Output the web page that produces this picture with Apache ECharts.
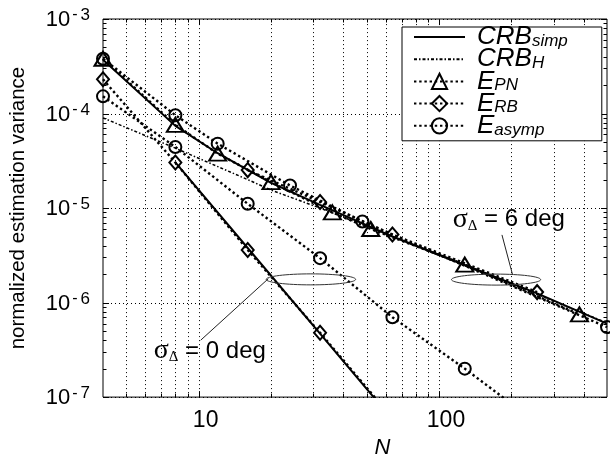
<!DOCTYPE html>
<html><head><meta charset="utf-8">
<script src="https://cdn.jsdelivr.net/npm/echarts@6/dist/echarts.min.js"></script>
<style>html,body{margin:0;padding:0;background:#fff}#c{width:610px;height:464px}</style>
</head><body><div id="c"></div>
<script>
// ---- axes ----
const xRange = [4, 500];
const yRange = [1e-7, 1e-3];
const xGridVals = [5, 6, 7, 8, 9, 10, 20, 30, 40, 50, 60, 70, 80, 90, 100, 200, 300, 400];
const yMajorVals = [1e-7, 1e-6, 1e-5, 1e-4, 1e-3];
const yMinorMantissas = [2, 3, 4, 5, 6, 7, 8, 9];
const legendNames = ['CRB_simp', 'CRB_H', 'E_PN', 'E_RB', 'E_asymp'];

// ---- sigma_Delta = 0 deg ----
const crbSimp0N = [8, 16, 32, 64];
const crbSimp0V = [3.05e-5, 3.78e-6, 4.7e-7, 5.8e-8];
const eRB0N = [4, 8, 16, 32, 64];
const eRB0V = [2.3e-4, 3.03e-5, 3.6e-6, 4.8e-7, 6.0e-8];
const eAsymp0N = [4, 8, 16, 32, 64, 128, 256];
const eAsymp0V = [1.52e-4, 4.43e-5, 1.11e-5, 2.95e-6, 7.0e-7, 2.0e-7, 5.3e-8];

// ---- sigma_Delta = 6 deg ----
const crbSimp6N = [4, 8, 12, 20, 32, 64, 128, 256, 500];
const crbSimp6V = [3.7e-4, 7.4e-5, 3.8e-5, 1.85e-5, 1.08e-5, 5.0e-6, 2.5e-6, 1.25e-6, 6.0e-7];
const crbH6N = [4, 8, 16, 20, 32, 64, 128, 256, 500];
const crbH6V = [9.0e-5, 4.3e-5, 2.0e-5, 1.55e-5, 1.0e-5, 5.0e-6, 2.45e-6, 1.22e-6, 6.1e-7];
const ePN6N = [4, 8, 12, 20, 36, 52, 128, 384];
const ePN6V = [3.8e-4, 7.6e-5, 3.77e-5, 1.88e-5, 9.0e-6, 6.0e-6, 2.52e-6, 7.5e-7];
const eRB6N = [16, 32, 64, 256];
const eRB6V = [2.52e-5, 1.16e-5, 5.25e-6, 1.29e-6];
const eAsymp6N = [4, 8, 12, 24, 48, 500];
const eAsymp6V = [3.8e-4, 9.6e-5, 4.8e-5, 1.73e-5, 7.2e-6, 5.5e-7];

// ---- annotations (data coordinates) ----
const annoText = [
  { val: '6 deg', at: [114, 7.6e-6] },
  { val: '0 deg', at: [6.5, 3.07e-7] }
];
const annoEllipse = [
  { from: [19.1, 1.76e-6], to: [45.0, 1.76e-6] },
  { from: [112.7, 1.75e-6], to: [264.8, 1.75e-6] }
];
const annoLeader = [
  { from: [19.5, 1.79e-6], to: [10.2, 4.0e-7] },
  { from: [202, 2.0e-6], to: [182.8, 5.2e-6] }
];

const FONT = 'Liberation Sans, Arial, Helvetica, sans-serif';
const BLACK = '#000';
const isPow10 = v => Math.abs(Math.log10(v) - Math.round(Math.log10(v))) < 1e-6;
const yMinorVals = [];
for (let e = -7; e < -3; e++) yMinorMantissas.forEach(m => yMinorVals.push(m * Math.pow(10, e)));

const zip = (a, b) => a.map((n, i) => [n, b[i]]);
// flat legend marker: a short horizontal stroke (corner points only set its box)
const FLAT = 'path://M0,0L0,0M0,7L10,7M10,14L10,14';
const styles = {
  CRB_simp: { symbol: FLAT, marks: false, width: 2, dash: 'solid' },
  CRB_H: { symbol: FLAT, marks: false, width: 1.5, dash: [3, 2, 1.5, 2] },
  E_PN: { symbol: 'triangle', marks: true, size: [17, 14], width: 2.4, dash: [2.4, 2.8] },
  E_RB: { symbol: 'diamond', marks: true, size: [12, 14], width: 2.4, dash: [2.4, 2.8] },
  E_asymp: { symbol: 'circle', marks: true, size: 12, width: 2.4, dash: [2.4, 2.8] }
};
function mk(name, N, V) {
  const s = styles[name];
  return {
    type: 'line', name, data: zip(N, V), silent: true, animation: false, z: 3, clip: true,
    symbol: s.symbol, symbolSize: s.size || 4, showSymbol: s.marks,
    lineStyle: { color: BLACK, width: s.width, type: s.dash, cap: 'butt' },
    itemStyle: { color: 'transparent', borderColor: BLACK, borderWidth: s.marks ? 2 : 0 },
    emphasis: { disabled: true }
  };
}
const crisp = v => Math.round(v) + 0.5;
function gridX() {
  return {
    type: 'custom', silent: true, z: 1, animation: false,
    data: xGridVals.map(v => [v, yRange[0]]),
    renderItem(params, api) {
      const v = api.value(0);
      const b = api.coord([v, yRange[0]]), t = api.coord([v, yRange[1]]);
      const x = crisp(b[0]);
      const L = isPow10(v) ? 6 : 3.5;
      return { type: 'group', children: [
        { type: 'line', shape: { x1: x, y1: b[1], x2: x, y2: t[1] }, style: { stroke: BLACK, lineWidth: 1, lineDash: [1, 3] } },
        { type: 'line', shape: { x1: x, y1: b[1], x2: x, y2: b[1] - L }, style: { stroke: BLACK, lineWidth: 1 } },
        { type: 'line', shape: { x1: x, y1: t[1], x2: x, y2: t[1] + L }, style: { stroke: BLACK, lineWidth: 1 } }
      ] };
    }
  };
}
function gridY(vals, major) {
  return {
    type: 'custom', silent: true, z: 1, animation: false,
    data: vals.map(v => [xRange[0], v]),
    renderItem(params, api) {
      const v = api.value(1);
      const l = api.coord([xRange[0], v]), r = api.coord([xRange[1], v]);
      const y = crisp(l[1]);
      const L = major ? 6 : 3.5;
      const ch = [
        { type: 'line', shape: { x1: l[0], y1: y, x2: l[0] + L, y2: y }, style: { stroke: BLACK, lineWidth: 1 } },
        { type: 'line', shape: { x1: r[0], y1: y, x2: r[0] - L, y2: y }, style: { stroke: BLACK, lineWidth: 1 } }
      ];
      if (major) ch.unshift({ type: 'line', shape: { x1: l[0], y1: y, x2: r[0], y2: y }, style: { stroke: BLACK, lineWidth: 1, lineDash: [1, 3] } });
      return { type: 'group', children: ch };
    }
  };
}

const subName = {
  CRB_simp: ['CRB', 'simp'], CRB_H: ['CRB', 'H'], E_PN: ['E', 'PN'], E_RB: ['E', 'RB'], E_asymp: ['E', 'asymp']
};

const chart = echarts.init(document.getElementById('c'), null, { renderer: 'canvas' });
const option = {
  animation: false,
  backgroundColor: '#fff',
  grid: { left: 100, right: 1, top: 19, bottom: 63, show: true, borderColor: BLACK, borderWidth: 1, backgroundColor: 'transparent' },
  xAxis: {
    type: 'log', logBase: 10, min: xRange[0], max: xRange[1],
    axisLine: { show: false }, axisTick: { show: false }, splitLine: { show: false },
    axisLabel: {
      margin: 12, color: BLACK, fontFamily: FONT, fontSize: 23, padding: [0, 0, 0, 14],
      formatter: v => isPow10(v) ? String(Math.round(v)) : ''
    },
    name: 'N', nameLocation: 'middle', nameGap: 36,
    nameTextStyle: { fontFamily: FONT, fontSize: 22, fontStyle: 'italic', color: BLACK, padding: [0, 0, 0, 55] }
  },
  yAxis: {
    type: 'log', logBase: 10, min: yRange[0], max: yRange[1],
    axisLine: { show: false }, axisTick: { show: false }, splitLine: { show: false },
    axisLabel: {
      margin: 13, color: BLACK,
      formatter: v => '{b|10}{m|-}{e|' + Math.abs(Math.round(Math.log10(v))) + '}',
      rich: {
        b: { fontFamily: FONT, fontSize: 22, color: BLACK, lineHeight: 24, verticalAlign: 'bottom' },
        m: { fontFamily: FONT, fontSize: 16, color: BLACK, verticalAlign: 'top', padding: [0, 3, 0, 2] },
        e: { fontFamily: FONT, fontSize: 17, color: BLACK, verticalAlign: 'top' }
      }
    },
    name: 'normalized estimation variance', nameLocation: 'middle', nameGap: 74,
    nameTextStyle: { fontFamily: FONT, fontSize: 20.5, color: BLACK }
  },
  legend: {
    data: legendNames, orient: 'vertical', left: 402, top: 27,
    padding: [-3, 34, 2, 11], itemGap: -3.8, itemWidth: 51, itemHeight: 19,
    backgroundColor: '#fff', borderColor: BLACK, borderWidth: 1, borderRadius: 0,
    selectedMode: false,
    formatter: name => '{m|' + subName[name][0] + '}{s|' + subName[name][1] + '}',
    textStyle: {
      lineHeight: 23,
      rich: {
        m: { fontFamily: FONT, fontSize: 26, fontStyle: 'italic', color: BLACK, lineHeight: 23, padding: [0, 0, 0, 7] },
        s: { fontFamily: FONT, fontSize: 17, fontStyle: 'italic', color: BLACK, lineHeight: 23, verticalAlign: 'middle', padding: [8, 0, 0, 0] }
      }
    }
  },
  series: [
    gridX(), gridY(yMajorVals, true), gridY(yMinorVals, false),
    mk('CRB_simp', crbSimp0N, crbSimp0V),
    mk('E_RB', eRB0N, eRB0V),
    mk('E_asymp', eAsymp0N, eAsymp0V),
    mk('CRB_H', crbH6N, crbH6V),
    mk('CRB_simp', crbSimp6N, crbSimp6V),
    mk('E_PN', ePN6N, ePN6V),
    mk('E_RB', eRB6N, eRB6V),
    mk('E_asymp', eAsymp6N, eAsymp6V)
  ]
};
chart.setOption(option);

const px = d => chart.convertToPixel({ gridIndex: 0 }, d);
const graphics = [];
annoEllipse.forEach(e => {
  const a = px(e.from), b = px(e.to);
  graphics.push({ type: 'ellipse', z: 10, silent: true,
    shape: { cx: (a[0] + b[0]) / 2, cy: (a[1] + b[1]) / 2, rx: (b[0] - a[0]) / 2, ry: 5.5 },
    style: { fill: 'none', stroke: '#333', lineWidth: 1 } });
});
annoLeader.forEach(l => {
  const a = px(l.from), b = px(l.to);
  graphics.push({ type: 'line', z: 10, silent: true,
    shape: { x1: a[0], y1: a[1], x2: b[0], y2: b[1] }, style: { stroke: '#222', lineWidth: 1 } });
});
annoText.forEach(t => {
  const p = px(t.at);
  graphics.push({ type: 'text', z: 11, silent: true, x: p[0], y: p[1],
    style: {
      text: '{g|σ}{d|Δ}{t| = ' + t.val + '}', verticalAlign: 'middle', align: 'left',
      rich: {
        g: { fontFamily: 'Liberation Serif, serif', fontSize: 28, fill: BLACK, lineHeight: 28 },
        d: { fontFamily: 'Liberation Serif, serif', fontSize: 15, fill: BLACK, verticalAlign: 'bottom', padding: [4, 0, 0, 0] },
        t: { fontFamily: FONT, fontSize: 24, fill: BLACK }
      }
    } });
});
chart.setOption({ graphic: graphics });
</script></body></html>
